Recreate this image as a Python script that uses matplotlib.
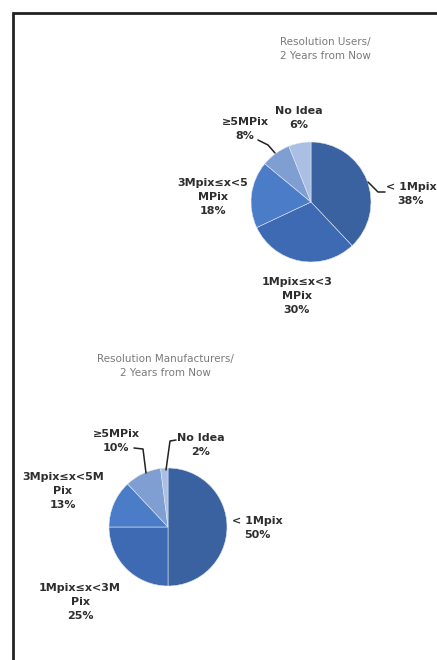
import matplotlib
matplotlib.use("Agg")
import matplotlib.pyplot as plt

W, H = 437, 660

# resolution shares two years out
users_labels = ["< 1Mpix", "1Mpix≤x<3\nMPix", "3Mpix≤x<5\nMPix", "≥5MPix", "No Idea"]
users_values = [38, 30, 18, 8, 6]

makers_labels = ["< 1Mpix", "1Mpix≤x<3M\nPix", "3Mpix≤x<5M\nPix", "≥5MPix", "No Idea"]
makers_values = [50, 25, 13, 10, 2]

colors = ["#3b62a0", "#3e6ab3", "#4a7cc7", "#7f9fd2", "#aabfe3"]

FONT = ["Liberation Sans Narrow", "DejaVu Sans"]
LABEL_KW = dict(family=FONT, fontsize=8, fontweight="bold", color="#2e2e2e",
                ha="center", va="center", linespacing=1.45)
TITLE_KW = dict(family=FONT, fontsize=7.5, color="#7a7a7a",
                ha="center", va="center", linespacing=1.55)

fig = plt.figure(figsize=(W / 100, H / 100), dpi=100)
ax = fig.add_axes([0, 0, 1, 1])
ax.set_xlim(0, W)
ax.set_ylim(H, 0)
ax.set_aspect("equal")
ax.axis("off")

# frame on the left and top
ax.plot([13, 13, W], [H, 12.5, 12.5], color="#222222", lw=2, solid_joinstyle="miter")


def draw_pie(values, center, radius):
    # y axis runs downward, so counterclock here turns clockwise on screen
    ax.pie(values, colors=colors, startangle=-90, counterclock=True,
           center=center, radius=radius, frame=True,
           wedgeprops=dict(edgecolor="#dfe6f2", linewidth=0.4))


def leader(xs, ys):
    ax.plot(xs, ys, color="#222222", lw=1.1, solid_capstyle="round")


# users, two years from now
ax.text(325, 49, "Resolution Users/\n2 Years from Now", **TITLE_KW)
draw_pie(users_values, (311, 202), 60)
ax.set_xlim(0, W)
ax.set_ylim(H, 0)

users_pos = [(411, 194), (297, 296), (213, 197), (245, 129), (299, 118)]
for lab, v, (x, y) in zip(users_labels, users_values, users_pos):
    ax.text(x, y, f"{lab}\n{v}%", **LABEL_KW)
leader([368, 378, 385], [182, 192, 192])
leader([258, 268, 275], [140, 145, 153])

# manufacturers, two years from now
ax.text(165, 366, "Resolution Manufacturers/\n2 Years from Now", **TITLE_KW)
draw_pie(makers_values, (168, 527), 59)
ax.set_xlim(0, W)
ax.set_ylim(H, 0)

makers_pos = [(257, 528), (80, 602), (63, 491), (116, 441), (201, 445)]
for lab, v, (x, y) in zip(makers_labels, makers_values, makers_pos):
    ax.text(x, y, f"{lab}\n{v}%", **LABEL_KW)
leader([134, 143, 146], [448, 449, 473])
leader([176, 170, 166], [440, 441, 470])

ax.axis("off")
fig.savefig("out.png", dpi=100, facecolor="white")
